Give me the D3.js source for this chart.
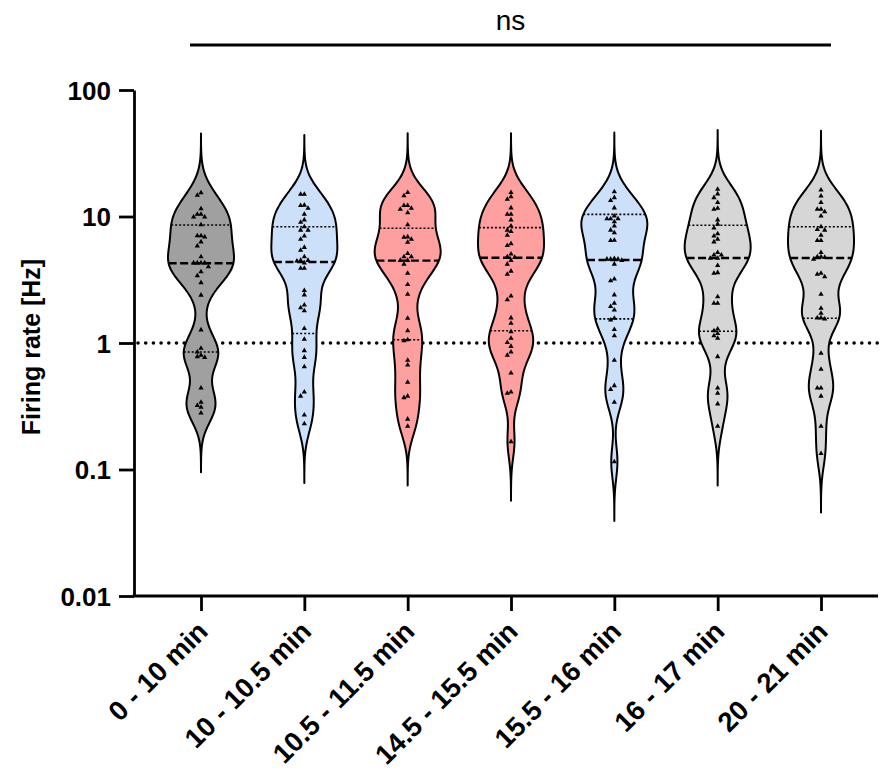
<!DOCTYPE html>
<html lang="en">
<head>
  <meta charset="UTF-8" />
  <title>Firing rate violins</title>
  <script src="https://d3js.org/d3.v7.min.js"></script>
  <style>
    body { margin: 0; background: white; }
    svg { display: block; }
    text { font-family: Arial, "Liberation Sans", sans-serif; fill: #000; }
  </style>
</head>
<body>
  <svg id="chart" width="880" height="771"></svg>
  <script>
    // categories and per-cell values (Hz)
    const categories = ['0 - 10 min', '10 - 10.5 min', '10.5 - 11.5 min', '14.5 - 15.5 min',
      '15.5 - 16 min', '16 - 17 min', '20 - 21 min'];

    const rates0 = [15.4, 14.7, 11.5, 10.4, 10.4, 9.9, 9.9, 8.6, 7.05, 7.05, 6.9, 6.3, 5.85, 4.8,
      4.3, 4.3, 4.3, 4.3, 4.0, 3.66, 3.4, 3.0, 2.39, 1.27, 0.91, 0.85, 0.8, 0.78, 0.77,
      0.44, 0.34, 0.32, 0.31, 0.28];
    const rates1 = [15.0, 15.0, 12.3, 11.6, 12.2, 10.4, 9.4, 9.0, 8.3, 7.8, 7.8, 7.0, 6.6, 5.7,
      5.4, 4.8, 4.5, 4.5, 4.3, 4.45, 3.9, 3.9, 2.6, 2.4, 2.0, 1.9, 1.8, 1.3, 1.07, 0.87,
      0.77, 0.65, 0.41, 0.38, 0.27, 0.23];
    const rates2 = [15.5, 14.6, 12.2, 12.2, 11.4, 11.6, 10.7, 8.6, 6.85, 6.9, 6.6, 6.25, 5.1,
      4.8, 4.8, 4.5, 4.5, 4.2, 3.56, 2.9, 2.43, 1.57, 1.25, 1.06, 1.04, 0.73, 0.67, 0.49,
      0.37, 0.38, 0.25, 0.22];
    const rates3 = [15.5, 14.3, 13.7, 11.7, 10.4, 10.4, 9.4, 8.4, 7.8, 7.6, 7.1, 5.9, 6.1, 5.05,
      4.8, 4.5, 4.75, 4.2, 3.5, 3.7, 2.35, 2.2, 1.58, 1.43, 1.23, 1.09, 1.01, 0.94, 0.85,
      0.8, 0.58, 0.41, 0.4, 0.166];
    const rates4 = [15.7, 14.1, 13.4, 11.7, 10.1, 9.6, 9.6, 9.6, 9.1, 8.4, 7.8, 7.45, 6.45, 6.5,
      4.5, 4.65, 4.6, 4.2, 4.6, 4.6, 3.1, 3.2, 2.4, 2.06, 1.94, 1.82, 1.57, 1.52, 1.28,
      1.14, 0.73, 0.46, 0.43, 0.34, 0.115];
    const rates5 = [16.4, 15.1, 14.1, 12.9, 11.6, 11.4, 9.4, 8.7, 8.1, 7.3, 6.6, 6.3, 7.0, 5.2,
      4.96, 4.96, 4.67, 4.67, 4.1, 3.56, 3.6, 2.32, 2.06, 2.06, 1.19, 1.25, 1.29, 1.09,
      1.14, 0.78, 0.44, 0.4, 0.33, 0.22];
    const rates6 = [16.2, 14.5, 12.9, 11.4, 11.4, 10.9, 10.1, 8.3, 7.9, 7.8, 7.1, 6.45, 6.45,
      5.2, 4.8, 4.8, 4.6, 4.75, 3.5, 3.56, 3.34, 2.43, 1.88, 1.72, 1.58, 1.58, 1.55, 0.83,
      0.62, 0.44, 0.44, 0.38, 0.22, 0.134];

    // summary lines drawn by the original software (median, quartiles)
    const medians = [4.27, 4.37, 4.48, 4.72, 4.53, 4.7, 4.7];
    const upperQuartiles = [8.57, 8.3, 8.07, 8.16, 10.4, 8.52, 8.3];
    const lowerQuartiles = [0.85, 1.19, 1.06, 1.25, 1.55, 1.24, 1.57];

    const yTicks = [0.01, 0.1, 1, 10, 100];
    const fills = ['#a0a0a0', '#cce0fa', '#ffa0a0', '#ffa0a0', '#cce0fa', '#d6d6d6', '#d6d6d6'];

    const groups = [rates0, rates1, rates2, rates3, rates4, rates5, rates6];

    const svg = d3.select('#chart');
    const plotLeft = 134, plotRight = 878, plotTop = 90, plotBottom = 596;
    const halfWidth = 33;
    const bw = 0.13;

    const x = d3.scalePoint().domain(categories).range([201, 821]);
    const y = d3.scaleLog().domain([0.01, 100]).range([plotBottom, plotTop]);

    // reference line at 1 Hz
    svg.append('line')
      .attr('x1', plotLeft + 4).attr('x2', plotRight)
      .attr('y1', y(1)).attr('y2', y(1))
      .attr('stroke', '#000').attr('stroke-width', 3.6)
      .attr('stroke-linecap', 'round')
      .attr('stroke-dasharray', '0 7.7');

    function kde(logs) {
      return t => d3.sum(logs, l => Math.exp(-0.5 * ((t - l) / bw) ** 2));
    }

    const area = d3.area()
      .y(d => y(Math.pow(10, d.t)))
      .x0(d => d.cx - d.w)
      .x1(d => d.cx + d.w)
      .curve(d3.curveBasis);

    const violins = svg.append('g');

    groups.forEach((vals, i) => {
      const cat = categories[i];
      const cx = x(cat);
      const logs = vals.map(Math.log10);
      const dens = kde(logs);
      const lo = d3.min(logs) - 3.6 * bw;
      const hi = d3.max(logs) + 3.6 * bw;
      const grid = d3.range(lo, hi, 0.01).concat([hi]);
      const peak = d3.max(grid, dens);
      const widthAt = t => dens(t) / peak * halfWidth;
      const pts = grid.map(t => ({ t, cx, w: widthAt(t) }));

      const g = violins.append('g');
      g.append('path')
        .attr('d', area(pts))
        .attr('fill', fills[i])
        .attr('stroke', '#000')
        .attr('stroke-width', 2)
        .attr('stroke-linejoin', 'round');

      const statLine = (v, dash, sw) => {
        const w = widthAt(Math.log10(v));
        g.append('line')
          .attr('x1', cx - w).attr('x2', cx + w)
          .attr('y1', y(v)).attr('y2', y(v))
          .attr('stroke', '#000')
          .attr('stroke-width', sw)
          .attr('stroke-dasharray', dash);
      };
      statLine(upperQuartiles[i], '2 2', 1.6);
      statLine(lowerQuartiles[i], '2 2', 1.6);
      statLine(medians[i], '8 3.5', 2.4);

      // simple swarm placement of the points
      const placed = [];
      const step = 3.7;
      vals.slice().sort((a, b) => b - a).forEach(v => {
        const py = y(v);
        for (let k = 0; k < 20; k++) {
          const off = k === 0 ? 0 : (k % 2 ? -1 : 1) * Math.ceil(k / 2) * step;
          const hit = placed.some(p => Math.abs(p.dy - py) < 4.2 && Math.abs(p.dx - off) < 3.5);
          if (!hit) { placed.push({ dx: off, dy: py }); break; }
        }
      });
      g.selectAll('path.pt')
        .data(placed)
        .join('path')
        .attr('class', 'pt')
        .attr('d', d3.symbol(d3.symbolTriangle, 12))
        .attr('transform', d => `translate(${cx + d.dx},${d.dy})`)
        .attr('fill', '#000');
    });

    // y axis
    const yAxis = svg.append('g')
      .attr('transform', `translate(${plotLeft},0)`)
      .call(d3.axisLeft(y).tickValues(yTicks).tickFormat(d3.format('~g'))
        .tickSize(15).tickSizeOuter(0).tickPadding(8));
    yAxis.selectAll('path, line').attr('stroke', '#000').attr('stroke-width', 2.8);
    yAxis.selectAll('text')
      .attr('font-size', 26).attr('font-weight', 'bold')
      .attr('font-family', 'Arial, "Liberation Sans", sans-serif')
      .attr('dy', '0.36em');

    // x axis
    const xAxis = svg.append('g')
      .attr('transform', `translate(0,${plotBottom})`)
      .call(d3.axisBottom(x).tickSize(15).tickSizeOuter(0));
    xAxis.select('.domain').remove();
    xAxis.append('line')
      .attr('x1', plotLeft - 1.4).attr('x2', plotRight)
      .attr('stroke', '#000').attr('stroke-width', 2.8);
    xAxis.selectAll('.tick line').attr('stroke', '#000').attr('stroke-width', 2.8);
    xAxis.selectAll('.tick text')
      .attr('font-size', 27.5).attr('font-weight', 'bold')
      .attr('font-family', 'Arial, "Liberation Sans", sans-serif')
      .attr('text-anchor', 'end')
      .attr('dy', 0)
      .attr('transform', 'translate(8,37) rotate(-45)')
      .attr('y', 0).attr('x', 0);

    // axis title
    svg.append('text')
      .attr('transform', `translate(40,347) rotate(-90)`)
      .attr('text-anchor', 'middle')
      .attr('font-size', 25).attr('font-weight', 'bold')
      .text('Firing rate [Hz]');

    // significance bracket
    svg.append('line')
      .attr('x1', 190).attr('x2', 831).attr('y1', 45).attr('y2', 45)
      .attr('stroke', '#000').attr('stroke-width', 3);
    svg.append('text')
      .attr('x', (190 + 831) / 2).attr('y', 30)
      .attr('text-anchor', 'middle')
      .attr('font-size', 28)
      .text('ns');
  </script>
</body>
</html>
